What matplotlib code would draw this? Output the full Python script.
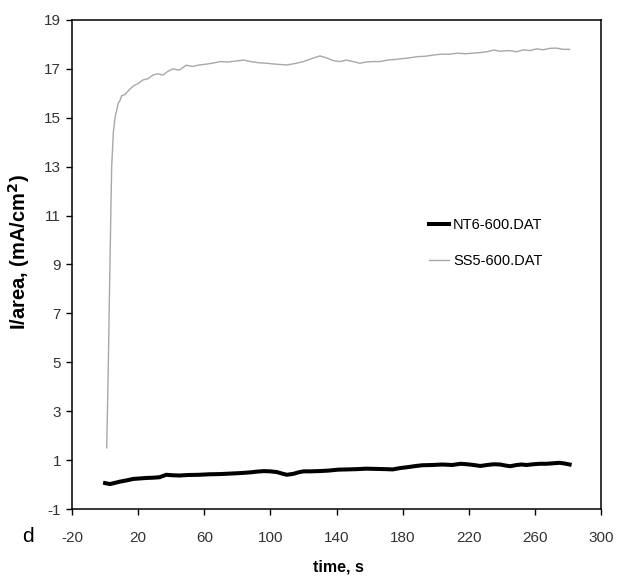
import matplotlib.pyplot as plt

plt.rcParams['font.family'] = ['Liberation Sans', 'DejaVu Sans']
plt.rcParams['axes.unicode_minus'] = False

# SS5-600 readings (time s, current density mA/cm2)
ss5_t = [1, 1.5, 2, 2.5, 3, 3.5, 4, 5, 6, 7, 8, 9, 10, 12, 14, 17, 20, 23,
         26, 29, 32, 35, 38, 41, 45, 49, 53, 57, 62, 66, 70, 74, 79, 84, 88,
         93, 98, 102, 106, 110, 115, 120, 125, 130, 134, 138, 142, 146, 150,
         154, 158, 162, 166, 171, 176, 180, 184, 189, 194, 199, 203, 208,
         213, 218, 222, 226, 231, 235, 239, 244, 249, 253, 257, 261, 265,
         269, 273, 277, 281]
ss5_v = [1.5, 3.2, 5.0, 7.2, 9.1, 11.2, 13.0, 14.4, 15.0, 15.3, 15.6, 15.7,
         15.9, 15.95, 16.1, 16.3, 16.4, 16.55, 16.6, 16.75, 16.8, 16.75, 16.9,
         17.0, 16.95, 17.15, 17.1, 17.16, 17.2, 17.25, 17.3, 17.28, 17.32,
         17.36, 17.3, 17.25, 17.23, 17.2, 17.18, 17.16, 17.22, 17.3, 17.42,
         17.53, 17.45, 17.34, 17.3, 17.36, 17.3, 17.23, 17.28, 17.3, 17.3,
         17.36, 17.39, 17.42, 17.45, 17.5, 17.52, 17.57, 17.6, 17.6, 17.64,
         17.62, 17.64, 17.66, 17.7, 17.77, 17.72, 17.75, 17.7, 17.78, 17.75,
         17.82, 17.78, 17.84, 17.85, 17.8, 17.8]

# NT6-600 readings
nt6_t = [0, 3, 6, 9, 13, 17, 21, 25, 29, 33, 37, 41, 45, 50, 57, 63, 70, 76,
         82, 88, 92, 96, 100, 104, 107, 110, 114, 117, 120, 124, 129, 135,
         141, 147, 152, 158, 164, 170, 174, 179, 184, 188, 192, 198, 204,
         210, 215, 219, 223, 227, 231, 235, 239, 242, 245, 249, 252, 255,
         259, 263, 267, 271, 275, 278, 281]
nt6_v = [0.06, 0.02, 0.07, 0.12, 0.17, 0.23, 0.25, 0.27, 0.28, 0.3, 0.4,
         0.38, 0.37, 0.39, 0.4, 0.42, 0.43, 0.45, 0.47, 0.5, 0.53, 0.55, 0.54,
         0.51, 0.45, 0.4, 0.44, 0.5, 0.54, 0.54, 0.55, 0.57, 0.61, 0.62, 0.63,
         0.65, 0.64, 0.63, 0.62, 0.68, 0.72, 0.76, 0.79, 0.8, 0.82, 0.8, 0.85,
         0.83, 0.8, 0.76, 0.8, 0.83, 0.82, 0.78, 0.75, 0.8, 0.82, 0.8, 0.83,
         0.85, 0.85, 0.87, 0.89, 0.86, 0.82]

x_ticks = [-20, 20, 60, 100, 140, 180, 220, 260, 300]
y_ticks = [-1, 1, 3, 5, 7, 9, 11, 13, 15, 17, 19]

fig = plt.figure(figsize=(6.17, 5.76), dpi=100)
ax = fig.add_axes([0.1167, 0.1163, 0.8574, 0.849])

ax.plot(nt6_t, nt6_v, color='black', lw=2.9, label='NT6-600.DAT')
ax.plot(ss5_t, ss5_v, color='#a8a8a8', lw=1.0, label='SS5-600.DAT')

ax.set_xlim(-20, 300)
ax.set_ylim(-1, 19)
ax.set_xticks(x_ticks)
ax.set_yticks(y_ticks)
ax.tick_params(direction='out', length=4, width=1, labelsize=11,
               labelcolor='#333333', pad=4)
ax.tick_params(axis='x', pad=12)
for s in ax.spines.values():
    s.set_linewidth(1.1)

ax.set_xlabel('time, s', fontsize=11.5, fontweight='bold', va='center')
ax.xaxis.set_label_coords(0.503, -0.119)
ax.set_ylabel('I/area, (mA/cm$^\\mathbf{2}$)', fontsize=14.5,
              fontweight='bold', va='center')
ax.yaxis.set_label_coords(-0.1, 0.525)
fig.text(28 / 617, 1 - 537 / 576, 'd', fontsize=15, ha='center', va='center')

ax.legend(loc='upper left', bbox_to_anchor=(0.661, 0.61), frameon=False,
          fontsize=10.5, handlelength=1.4, handletextpad=0.25,
          labelspacing=1.5, borderpad=0)

fig.savefig('out.png', dpi=100)
